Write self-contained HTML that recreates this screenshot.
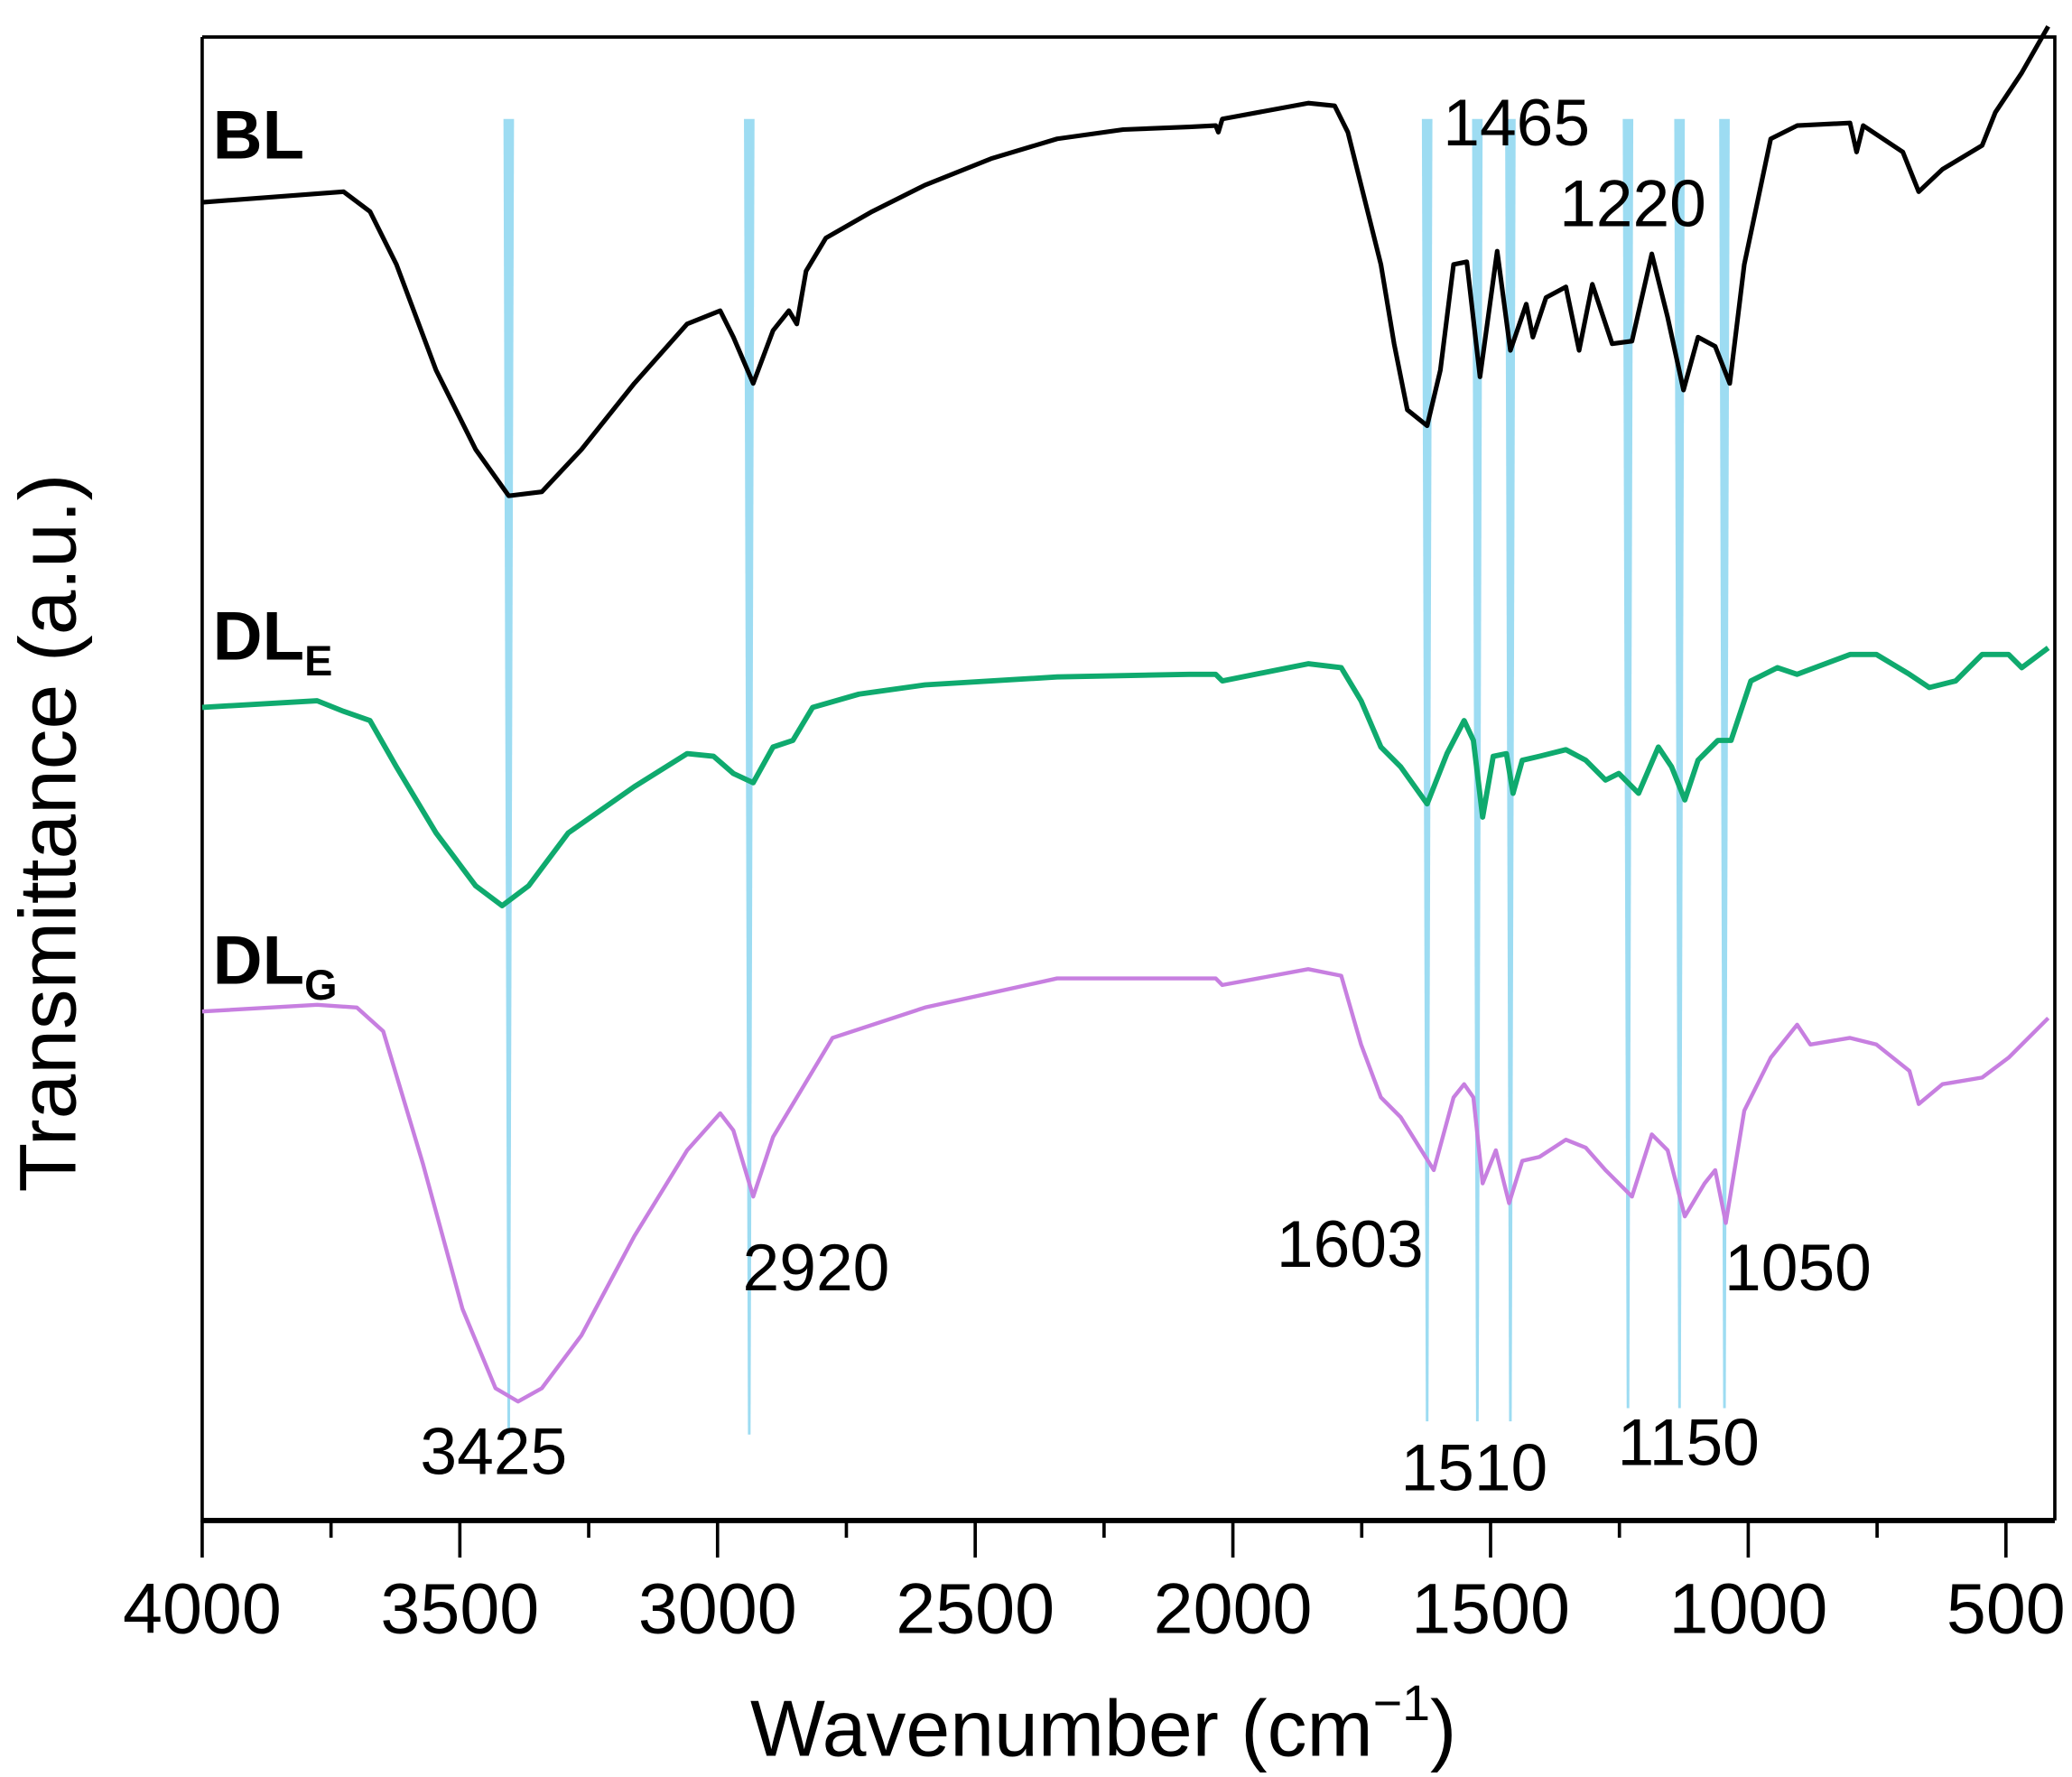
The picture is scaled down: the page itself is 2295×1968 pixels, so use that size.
<!DOCTYPE html>
<html><head><meta charset="utf-8"><style>
html,body{margin:0;padding:0;background:#fff;}
svg{display:block;}
text{font-family:"Liberation Sans",Arial,sans-serif;fill:#000;}
</style></head><body>
<svg width="2295" height="1968" viewBox="0 0 1568 1344" preserveAspectRatio="none" xmlns="http://www.w3.org/2000/svg">
<rect width="1568" height="1344" fill="#fff"/>
<g fill="#9ddcf2">
<polygon points="381,90 389,90 386,1085 384,1085"/>
<polygon points="563,90 571,90 568,1085 566,1085"/>
<polygon points="1076,90 1084,90 1081,1075 1079,1075"/>
<polygon points="1114,90 1122,90 1119,1075 1117,1075"/>
<polygon points="1139,90 1147,90 1144,1075 1142,1075"/>
<polygon points="1228,90 1236,90 1233,1065 1231,1065"/>
<polygon points="1267,90 1275,90 1272,1065 1270,1065"/>
<polygon points="1301,90 1309,90 1306,1065 1304,1065"/>
</g>
<path d="M153,28 L1555,28 L1555,1150 M153,28 L153,1150 L1555,1150" fill="none" stroke="#000" stroke-width="2.5"/>
<line x1="153" y1="1150" x2="1555" y2="1150" stroke="#000" stroke-width="4"/>
<g stroke="#000" stroke-width="2.5">
<line x1="153" y1="1150" x2="153" y2="1178"/><line x1="250.5" y1="1150" x2="250.5" y2="1163"/>
<line x1="348" y1="1150" x2="348" y2="1178"/><line x1="445.5" y1="1150" x2="445.5" y2="1163"/>
<line x1="543" y1="1150" x2="543" y2="1178"/><line x1="640.5" y1="1150" x2="640.5" y2="1163"/>
<line x1="738" y1="1150" x2="738" y2="1178"/><line x1="835.5" y1="1150" x2="835.5" y2="1163"/>
<line x1="933" y1="1150" x2="933" y2="1178"/><line x1="1030.5" y1="1150" x2="1030.5" y2="1163"/>
<line x1="1128" y1="1150" x2="1128" y2="1178"/><line x1="1225.5" y1="1150" x2="1225.5" y2="1163"/>
<line x1="1323" y1="1150" x2="1323" y2="1178"/><line x1="1420.5" y1="1150" x2="1420.5" y2="1163"/>
<line x1="1518" y1="1150" x2="1518" y2="1178"/>
</g>
<g font-size="54" text-anchor="middle">
<text x="153" y="1235">4000</text><text x="348" y="1235">3500</text><text x="543" y="1235">3000</text>
<text x="738" y="1235">2500</text><text x="933" y="1235">2000</text><text x="1128" y="1235">1500</text>
<text x="1323" y="1235">1000</text><text x="1518" y="1235">500</text>
</g>
<text x="835" y="1328" font-size="60" text-anchor="middle">Wavenumber (cm<tspan font-size="38" dy="-27">−1</tspan><tspan dy="27">)</tspan></text>
<text transform="translate(57,630) rotate(-90)" font-size="61" text-anchor="middle">Transmittance (a.u.)</text>
<polyline fill="none" stroke="#000" stroke-width="3.5" stroke-linejoin="round" points="153,153 260,145 280,160 300,200 330,280 360,340 385,375 410,372 440,340 480,290 520,245 545,235 555,255 570,290 585,250 597,235 603,245 610,205 625,180 660,160 700,140 750,120 800,105 850,98 900,96 920,95 922,100 925,90 990,78 1010,80 1020,100 1030,140 1045,200 1055,260 1065,310 1080,322 1090,280 1100,200 1110,198 1120,285 1133,190 1143,265 1155,230 1160,255 1170,225 1185,217 1195,265 1205,215 1220,260 1235,258 1250,192 1262,240 1274,295 1285,255 1298,262 1309,290 1320,200 1340,105 1360,95 1400,93 1405,115 1410,95 1440,115 1452,145 1470,128 1500,110 1510,85 1530,55 1550,20"/>
<polyline fill="none" stroke="#0faa6e" stroke-width="4" stroke-linejoin="round" points="153,535 240,530 260,538 280,545 300,580 330,630 360,670 380,685 400,670 430,630 480,595 520,570 540,572 555,585 570,592 585,565 600,560 615,535 650,525 700,518 800,512 900,510 920,510 925,515 990,502 1015,505 1030,530 1045,565 1060,580 1080,608 1095,570 1108,545 1115,560 1122,618 1130,572 1140,570 1145,600 1152,575 1165,572 1185,567 1200,575 1215,590 1225,585 1240,600 1255,565 1265,580 1275,605 1285,575 1300,560 1310,560 1325,515 1345,505 1360,510 1400,495 1420,495 1445,510 1460,520 1480,515 1500,495 1520,495 1530,505 1550,490"/>
<polyline fill="none" stroke="#c77fe0" stroke-width="3" stroke-linejoin="round" points="153,765 240,760 270,762 290,780 320,880 350,990 375,1050 392,1060 410,1050 440,1010 480,935 520,870 545,842 555,855 570,905 585,860 600,835 615,810 630,785 700,762 800,740 900,740 920,740 925,745 990,733 1015,738 1030,790 1045,830 1060,845 1085,885 1100,830 1108,820 1115,830 1122,895 1132,870 1142,910 1152,878 1165,875 1185,862 1200,868 1215,885 1235,905 1250,858 1262,870 1275,920 1290,895 1298,885 1306,925 1320,840 1340,800 1360,775 1370,790 1400,785 1420,790 1445,810 1452,835 1470,820 1500,815 1520,800 1550,770"/>
<g font-size="52" font-weight="bold">
<text x="161" y="120">BL</text>
<text x="161" y="499">DL<tspan font-size="32" dy="12">E</tspan></text>
<text x="161" y="744">DL<tspan font-size="32" dy="12">G</tspan></text>
</g>
<g font-size="50">
<text x="1092" y="110">1465</text>
<text x="1180" y="171">1220</text>
<text x="562" y="976">2920</text>
<text x="318" y="1115">3425</text>
<text x="966" y="958">1603</text>
<text x="1305" y="976">1050</text>
<text x="1060" y="1127">1510</text>
<text x="1224" y="1108">1150</text>
</g>
</svg>
</body></html>
